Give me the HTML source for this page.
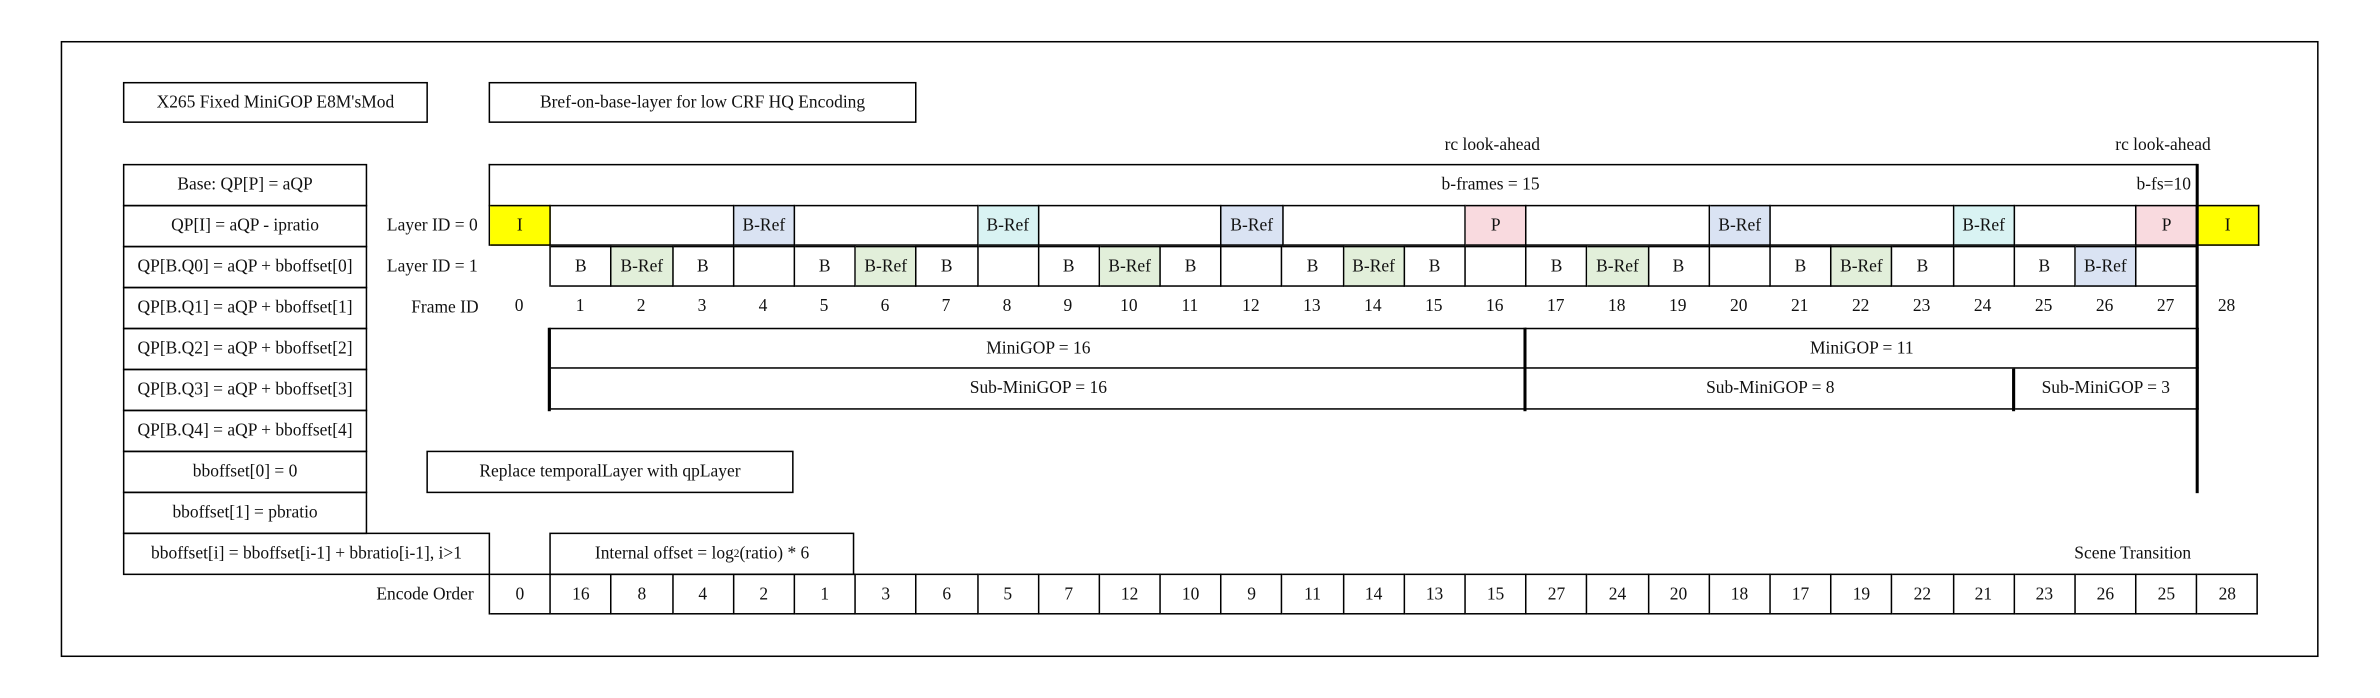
<!DOCTYPE html>
<html><head><meta charset="utf-8">
<style>
html,body{margin:0;padding:0;background:#fff;}
body{width:2380px;height:698px;overflow:hidden;position:relative;}
#w{position:absolute;left:0;top:0;width:1570px;height:460px;transform:scale(1.5174);transform-origin:0 0;font-family:"Liberation Serif",serif;font-size:11.5px;color:#111;}
.a{position:absolute;box-sizing:border-box;}
.b{border:1px solid #000;display:flex;align-items:center;justify-content:center;white-space:nowrap;}
.t{position:absolute;white-space:nowrap;line-height:27px;height:27px;}
.row{position:absolute;display:flex;height:27px;box-sizing:border-box;border-left:1px solid #000;}
.row>div{box-sizing:border-box;border-top:1px solid #000;border-bottom:1px solid #000;border-right:1px solid #000;display:flex;align-items:center;justify-content:center;height:27px;flex:none;white-space:nowrap;}
.n{position:absolute;display:flex;height:27px;}
.n>div{width:40.2px;text-align:center;line-height:27px;flex:none;}
.y{background:#ffff00}.bl{background:#dae3f3}.cy{background:#d9f3f3}.gr{background:#e2efda}.pk{background:#f9dadf}
sub{font-size:7.5px;vertical-align:-2px;line-height:0}
</style></head><body><div id="w">
<div class="a" style="left:40px;top:27px;width:1488px;height:406px;border:1px solid #000;"></div>
<div class="a b" style="left:81px;top:54px;width:201px;height:27px;">X265 Fixed MiniGOP E8M'sMod</div>
<div class="a b" style="left:322px;top:54px;width:282px;height:27px;">Bref-on-base-layer for low CRF HQ Encoding</div>

<div class="a b" style="left:81px;top:108px;width:161px;height:28px;">Base: QP[P] = aQP</div>
<div class="a b" style="left:81px;top:135px;width:161px;height:28px;">QP[I] = aQP - ipratio</div>
<div class="a b" style="left:81px;top:162px;width:161px;height:28px;">QP[B.Q0] = aQP + bboffset[0]</div>
<div class="a b" style="left:81px;top:189px;width:161px;height:28px;">QP[B.Q1] = aQP + bboffset[1]</div>
<div class="a b" style="left:81px;top:216px;width:161px;height:28px;">QP[B.Q2] = aQP + bboffset[2]</div>
<div class="a b" style="left:81px;top:243px;width:161px;height:28px;">QP[B.Q3] = aQP + bboffset[3]</div>
<div class="a b" style="left:81px;top:270px;width:161px;height:28px;">QP[B.Q4] = aQP + bboffset[4]</div>
<div class="a b" style="left:81px;top:297px;width:161px;height:28px;">bboffset[0] = 0</div>
<div class="a b" style="left:81px;top:324px;width:161px;height:28px;">bboffset[1] = pbratio</div>
<div class="a b" style="left:81px;top:351px;width:242px;height:28px;">bboffset[i] = bboffset[i-1] + bbratio[i-1], i&gt;1</div>

<div class="t" style="left:952px;top:83px;">rc look-ahead</div>
<div class="t" style="left:1394px;top:83px;">rc look-ahead</div>
<div class="a" style="left:322px;top:108px;width:1126px;height:28px;border-top:1px solid #000;border-left:1px solid #000;"></div>
<div class="t" style="left:950px;top:109px;">b-frames = 15</div>
<div class="t" style="left:1408px;top:109px;">b-fs=10</div>

<div class="t" style="left:255px;top:136px;">Layer ID = 0</div>
<div class="t" style="left:255px;top:163px;">Layer ID = 1</div>
<div class="t" style="left:271px;top:190px;">Frame ID</div>
<div class="t" style="left:248px;top:379px;">Encode Order</div>

<div class="row" style="left:322px;top:135px;">
<div class="y" style="width:40.2px">I</div><div style="width:120.6px"></div><div class="bl" style="width:40.2px">B-Ref</div><div style="width:120.6px"></div><div class="cy" style="width:40.2px">B-Ref</div><div style="width:120.6px"></div><div class="bl" style="width:40.2px">B-Ref</div><div style="width:120.6px"></div><div class="pk" style="width:40.2px">P</div><div style="width:120.6px"></div><div class="bl" style="width:40.2px">B-Ref</div><div style="width:120.6px"></div><div class="cy" style="width:40.2px">B-Ref</div><div style="width:80.4px"></div><div class="pk" style="width:40.2px">P</div><div class="y" style="width:40.2px">I</div>
</div>

<div class="row" style="left:362.2px;top:162px;">
<div style="width:40.2px">B</div><div class="gr" style="width:40.2px">B-Ref</div><div style="width:40.2px">B</div><div style="width:40.2px"></div>
<div style="width:40.2px">B</div><div class="gr" style="width:40.2px">B-Ref</div><div style="width:40.2px">B</div><div style="width:40.2px"></div>
<div style="width:40.2px">B</div><div class="gr" style="width:40.2px">B-Ref</div><div style="width:40.2px">B</div><div style="width:40.2px"></div>
<div style="width:40.2px">B</div><div class="gr" style="width:40.2px">B-Ref</div><div style="width:40.2px">B</div><div style="width:40.2px"></div>
<div style="width:40.2px">B</div><div class="gr" style="width:40.2px">B-Ref</div><div style="width:40.2px">B</div><div style="width:40.2px"></div>
<div style="width:40.2px">B</div><div class="gr" style="width:40.2px">B-Ref</div><div style="width:40.2px">B</div><div style="width:40.2px"></div>
<div style="width:40.2px">B</div><div class="bl" style="width:40.2px">B-Ref</div><div style="width:40.2px"></div>
</div>

<div class="n" style="left:322px;top:189px;">
<div>0</div><div>1</div><div>2</div><div>3</div><div>4</div><div>5</div><div>6</div><div>7</div><div>8</div><div>9</div><div>10</div><div>11</div><div>12</div><div>13</div><div>14</div><div>15</div><div>16</div><div>17</div><div>18</div><div>19</div><div>20</div><div>21</div><div>22</div><div>23</div><div>24</div><div>25</div><div>26</div><div>27</div><div>28</div>
</div>

<div class="row" style="left:362.2px;top:216px;">
<div style="width:643.2px">MiniGOP = 16</div><div style="width:442.2px">MiniGOP = 11</div>
</div>
<div class="row" style="left:362.2px;top:243px;border-top:none;">
<div style="width:643.2px;border-top:none;height:27px;">Sub-MiniGOP = 16</div><div style="width:321.6px;border-top:none;">Sub-MiniGOP = 8</div><div style="width:120.6px;border-top:none;">Sub-MiniGOP = 3</div>
</div>
<div class="a" style="left:361.2px;top:216px;width:2px;height:55px;background:#000;"></div>
<div class="a" style="left:1004.4px;top:216px;width:2px;height:55px;background:#000;"></div>
<div class="a" style="left:1326px;top:243px;width:2px;height:28px;background:#000;"></div>
<div class="a" style="left:1446.6px;top:108px;width:2px;height:217px;background:#000;"></div>

<div class="a b" style="left:281px;top:297px;width:242px;height:28px;">Replace temporalLayer with qpLayer</div>
<div class="a b" style="left:362.2px;top:351px;width:201px;height:28px;">Internal offset = log<sub>2</sub>(ratio) * 6</div>
<div class="t" style="left:1367px;top:352px;">Scene Transition</div>

<div class="row" style="left:322px;top:378px;">
<div style="width:40.2px">0</div><div style="width:40.2px">16</div><div style="width:40.2px">8</div><div style="width:40.2px">4</div><div style="width:40.2px">2</div><div style="width:40.2px">1</div><div style="width:40.2px">3</div><div style="width:40.2px">6</div><div style="width:40.2px">5</div><div style="width:40.2px">7</div><div style="width:40.2px">12</div><div style="width:40.2px">10</div><div style="width:40.2px">9</div><div style="width:40.2px">11</div><div style="width:40.2px">14</div><div style="width:40.2px">13</div><div style="width:40.2px">15</div><div style="width:40.2px">27</div><div style="width:40.2px">24</div><div style="width:40.2px">20</div><div style="width:40.2px">18</div><div style="width:40.2px">17</div><div style="width:40.2px">19</div><div style="width:40.2px">22</div><div style="width:40.2px">21</div><div style="width:40.2px">23</div><div style="width:40.2px">26</div><div style="width:40.2px">25</div><div style="width:40.2px">28</div>
</div>
</div></body></html>
